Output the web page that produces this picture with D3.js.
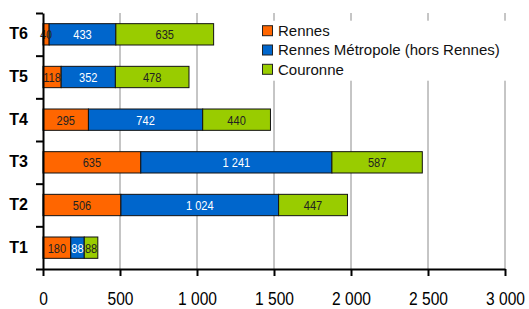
<!DOCTYPE html>
<html>
<head>
<meta charset="utf-8">
<script src="https://cdn.jsdelivr.net/npm/d3@7"></script>
<style>
body { margin: 0; background: #fff; }
svg { display: block; }
</style>
</head>
<body>
<div id="chart"></div>
<script>
var categories = ["T6", "T5", "T4", "T3", "T2", "T1"];
var series = ["Rennes", "Rennes Métropole (hors Rennes)", "Couronne"];
var rennes = [40, 118, 295, 635, 506, 180];
var metropole = [433, 352, 742, 1241, 1024, 88];
var couronne = [635, 478, 440, 587, 447, 88];
var xTicks = [0, 500, 1000, 1500, 2000, 2500, 3000];
var colors = ["#ff6600", "#0066cc", "#99cc00"];
var labelColors = ["#222", "#fff", "#222"];

var width = 529, height = 309;
var margin = {top: 13, right: 24, bottom: 40, left: 43};
var plot_w = width - margin.left - margin.right;
var plot_h = height - margin.top - margin.bottom;
var narrow = 0.82; // no narrow font installed, squeeze Liberation Sans instead

var rows = categories.map(function (c, i) {
    return {cat: c, Rennes: rennes[i], "Rennes Métropole (hors Rennes)": metropole[i], Couronne: couronne[i]};
});
var stacked = d3.stack().keys(series)(rows);

var x = d3.scaleLinear().domain([0, 3000]).range([0, plot_w]);
var y = d3.scaleBand().domain(categories).range([0, plot_h]).paddingInner(0.5).paddingOuter(0.25);
var yb = d3.scaleLinear().domain([0, categories.length]).range([plot_h, 0]);

var fr = d3.formatLocale({decimal: ",", thousands: "\u00a0", grouping: [3], currency: ["", ""]});
var fmt = fr.format(",d");

var svg = d3.select("#chart").append("svg")
    .attr("width", width)
    .attr("height", height);
var vis = svg.append("g")
    .attr("transform", "translate(" + margin.left + "," + margin.top + ")");

// grid lines
vis.append("g").selectAll("line")
    .data(xTicks.slice(1))
    .enter().append("line")
    .attr("x1", function (d) { return x(d); })
    .attr("x2", function (d) { return x(d); })
    .attr("y1", 0)
    .attr("y2", plot_h)
    .style("stroke", "#8c8c8c")
    .style("stroke-width", 1);

// legend box (hides grid)
var legend = vis.append("g").attr("transform", "translate(" + (262 - margin.left) + "," + (30.7 - margin.top) + ")");
legend.append("rect")
    .attr("x", -6).attr("y", -10)
    .attr("width", 256).attr("height", 60)
    .style("fill", "#fff");
series.forEach(function (s, i) {
    var g = legend.append("g").attr("transform", "translate(0," + (i * 19.3) + ")");
    g.append("rect")
        .attr("x", 0.5).attr("y", -5)
        .attr("width", 10).attr("height", 10)
        .style("fill", colors[i])
        .style("stroke", "#222")
        .style("stroke-width", 1);
    g.append("text")
        .attr("x", 16)
        .attr("dy", "0.36em")
        .style("font-family", "'Liberation Sans', Arial, sans-serif")
        .style("font-size", "15px")
        .style("fill", "#111")
        .text(s);
});

// bars
var layers = vis.selectAll("g.layer")
    .data(stacked)
    .enter().append("g")
    .attr("class", "layer");

layers.selectAll("rect")
    .data(function (d) { return d; })
    .enter().append("rect")
    .attr("x", function (d) { return x(d[0]); })
    .attr("y", function (d) { return y(d.data.cat); })
    .attr("width", function (d) { return x(d[1]) - x(d[0]); })
    .attr("height", y.bandwidth())
    .style("fill", function (d, i, n) { return colors[d3.select(n[i].parentNode).datum().index]; })
    .style("stroke", "#111")
    .style("stroke-width", 1);

// value labels go on top of every bar
var labelLayers = vis.selectAll("g.labels")
    .data(stacked)
    .enter().append("g")
    .attr("class", "labels");

labelLayers.selectAll("g.lab")
    .data(function (d) { return d; })
    .enter().append("g")
    .attr("class", "lab")
    .attr("transform", function (d) {
        return "translate(" + ((x(d[0]) + x(d[1])) / 2) + "," + (y(d.data.cat) + y.bandwidth() / 2) + ")";
    })
    .append("text")
    .attr("transform", "scale(" + narrow + ",1)")
    .attr("dy", "0.36em")
    .style("text-anchor", "middle")
    .style("font-family", "'Liberation Sans', Arial, sans-serif")
    .style("font-size", "13.5px")
    .style("fill", function (d, i, n) { return labelColors[d3.select(n[i].parentNode.parentNode).datum().index]; })
    .text(function (d) { return fmt(d[1] - d[0]); });

// axes
var xaxis = d3.axisBottom(x).tickValues(xTicks).tickSize(7).tickSizeOuter(0).tickPadding(16).tickFormat(fmt);
var gx = vis.append("g")
    .attr("transform", "translate(0," + plot_h + ")")
    .call(xaxis);
gx.selectAll("text")
    .attr("transform", "scale(" + narrow + ",1)")
    .style("font-family", "'Liberation Sans', Arial, sans-serif")
    .style("font-size", "19px")
    .style("fill", "#000");

var ytick = d3.axisLeft(yb).ticks(categories.length).tickSize(7).tickSizeOuter(0).tickFormat("");
vis.append("g").call(ytick);

var ylab = d3.axisLeft(y).tickSize(0).tickPadding(15);
var gy = vis.append("g").call(ylab);
gy.select(".domain").remove();
gy.selectAll("text")
    .style("font-family", "'Liberation Sans', Arial, sans-serif")
    .style("font-size", "16px")
    .style("font-weight", "bold")
    .style("fill", "#000");

vis.selectAll(".domain, .tick line")
    .style("stroke", "#000")
    .style("stroke-width", 2);
</script>
</body>
</html>
